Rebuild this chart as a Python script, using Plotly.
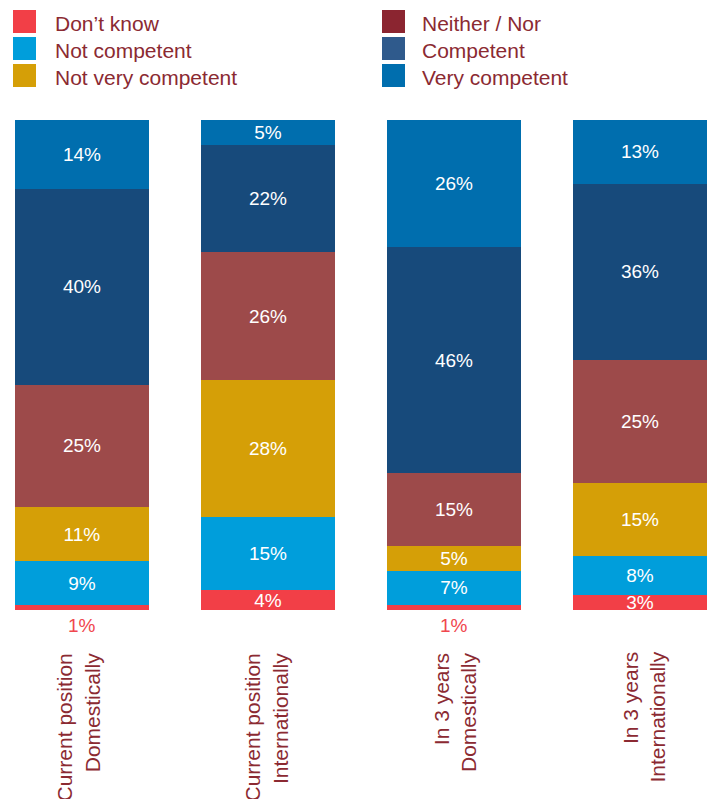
import plotly.graph_objects as go

# Survey groups (x axis)
categories = [
    "Current position<br>Domestically",
    "Current position<br>Internationally",
    "In 3 years<br>Domestically",
    "In 3 years<br>Internationally",
]

# Share of respondents per answer, bottom to top of each stack (%)
series_names = ["Don’t know", "Not competent", "Not very competent",
                "Neither / Nor", "Competent", "Very competent"]
dont_know = [1, 4, 1, 3]
not_competent = [9, 15, 7, 8]
not_very_competent = [11, 28, 5, 15]
neither_nor = [25, 26, 15, 25]
competent = [40, 22, 46, 36]
very_competent = [14, 5, 26, 13]

series_values = [dont_know, not_competent, not_very_competent,
                 neither_nor, competent, very_competent]

bar_colors = ["#F23F47", "#009EDB", "#D59F07", "#9D4A4A", "#174A7B", "#006EAE"]
key_colors = ["#F23F47", "#009EDB", "#D59F07", "#8B2530", "#2F5A8C", "#006EAE"]

FONT = "Liberation Sans, Arial, sans-serif"
TEXT_RED = "#8B2A32"

W, H = 712, 799
ML, MR, MT, MB = 15, 5, 120, 189
PW, PH = W - ML - MR, H - MT - MB


def px_x(px):
    return (px - ML) / PW


def px_y(py):
    return (H - MB - py) / PH


fig = go.Figure()

for name, vals, col in zip(series_names, series_values, bar_colors):
    fig.add_trace(go.Bar(
        x=categories,
        y=vals,
        name=name,
        width=0.72,
        marker=dict(color=col, line=dict(width=0)),
        text=[f"{v}%" if v > 1 else "" for v in vals],
        textposition="inside",
        insidetextanchor="middle",
        textfont=dict(family=FONT, size=19, color="white"),
        showlegend=False,
        hoverinfo="skip",
    ))

annotations = []

# Small shares are labelled beneath the bar
for cat, v in zip(categories, dont_know):
    if v <= 1:
        annotations.append(dict(
            x=cat, y=0, xref="x", yref="y", text=f"{v}%", showarrow=False,
            yanchor="middle", yshift=-15,
            font=dict(family=FONT, size=19, color="#F0474E"),
        ))

# Group names, rotated under each bar
label_shift = [-4, -2, 1, 3]
for cat, dx in zip(categories, label_shift):
    annotations.append(dict(
        x=cat, y=px_y(650), xref="x", yref="paper", text=cat, showarrow=False,
        textangle=-90, align="right", xanchor="center", yanchor="top",
        xshift=dx,
        font=dict(family=FONT, size=21, color=TEXT_RED),
    ))

# Two-column key at the top
shapes = []
col_box_x = [(13, 36), (382, 405)]
col_text_x = [53, 420]
row_top = [10, 37, 64]
for i, (name, col) in enumerate(zip(series_names, key_colors)):
    c, r = divmod(i, 3)
    x0, x1 = col_box_x[c]
    y0 = row_top[r]
    shapes.append(dict(
        type="rect", xref="paper", yref="paper",
        x0=px_x(x0), x1=px_x(x1), y0=px_y(y0 + 23), y1=px_y(y0),
        fillcolor=col, line=dict(width=0),
    ))
    annotations.append(dict(
        x=px_x(col_text_x[c]), y=px_y(y0 + 13.5), xref="paper", yref="paper",
        text=name, showarrow=False, xanchor="left", yanchor="middle",
        font=dict(family=FONT, size=21, color=TEXT_RED),
    ))

fig.update_layout(
    width=W, height=H,
    margin=dict(l=ML, r=MR, t=MT, b=MB, pad=0),
    barmode="stack",
    paper_bgcolor="white",
    plot_bgcolor="white",
    uniformtext=dict(minsize=19, mode="show"),
    xaxis=dict(range=[-0.36, 3.36], visible=False),
    yaxis=dict(range=[0, 100], visible=False),
    annotations=annotations,
    shapes=shapes,
)

fig.write_html("out.html")
